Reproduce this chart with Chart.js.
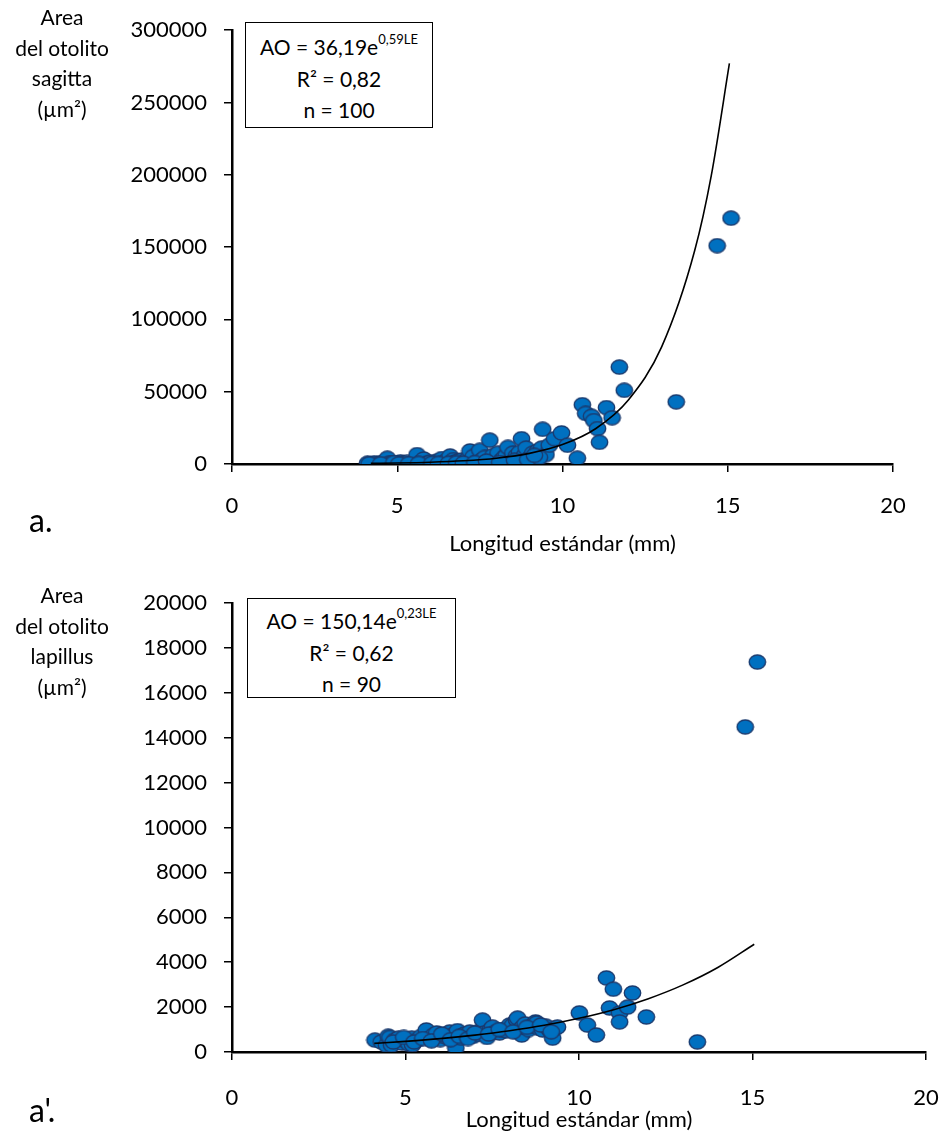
<!DOCTYPE html>
<html>
<head>
<meta charset="utf-8">
<script src="https://cdn.jsdelivr.net/npm/chart.js@4/dist/chart.umd.min.js"></script>
<style>
  html, body { margin:0; padding:0; background:#fff; }
  body { width:950px; height:1135px; position:relative; overflow:hidden; font-family: Lato, "Liberation Sans", sans-serif; color:#000; }
  .cv { position:absolute; left:0; }
  .ytitle { position:absolute; text-align:center; font-size:21px; line-height:30.5px; width:130px; }
  .eq { position:absolute; border:1.5px solid #000; background:#fff; text-align:center; font-size:21px; line-height:31.5px; box-sizing:border-box; padding-top:8px; }
  .eq sup { font-size:13px; position:relative; top:2px; vertical-align:top; line-height:13px; }
  .tag { position:absolute; font-size:32px; }
</style>
</head>
<body>
<canvas id="c1" class="cv" style="top:0" width="950" height="570"></canvas>
<canvas id="c2" class="cv" style="top:570px" width="950" height="565"></canvas>

<div class="ytitle" style="left:-3px; top:2px;">Area<br>del otolito<br>sagitta<br>(µm²)</div>
<div class="ytitle" style="left:-3px; top:580px;">Area<br>del otolito<br>lapillus<br>(µm²)</div>

<div class="eq" style="left:245px; top:22px; width:188px; height:106px;">AO = 36,19e<sup>0,59LE</sup><br>R² = 0,82<br>n = 100</div>
<div class="eq" style="left:247px; top:598px; width:209px; height:100px; padding-top:6px;">AO = 150,14e<sup>0,23LE</sup><br>R² = 0,62<br>n = 90</div>

<div class="tag" style="left:29px; top:500px;">a.</div>
<div class="tag" style="left:29px; top:1090px;">a'.</div>

<script>
// ---------- DATA: sagitta (top) ----------
const sagittaLength = [4.1,4.2,4.3,4.45,4.55,4.6,4.7,4.75,4.85,4.95,5.0,5.1,5.2,5.3,5.45,5.55,5.6,5.7,5.8,5.9,
  6.0,6.1,6.2,6.3,6.35,6.45,6.5,6.6,6.65,6.7,6.75,6.85,6.95,7.05,7.15,7.2,7.25,7.3,7.4,7.5,
  7.55,7.65,7.8,7.9,8.0,8.05,8.15,8.25,8.3,8.35,8.45,8.5,8.6,8.7,8.76,8.85,8.9,9.0,9.1,9.2,
  9.25,9.37,9.4,9.5,9.6,9.76,9.97,10.15,10.45,10.6,10.7,10.88,10.95,11.06,11.12,11.33,11.5,11.72,11.87,13.44,
  14.68,15.1,4.15,4.5,4.9,5.05,5.35,5.65,6.05,6.25,6.55,6.8,7.0,7.35,7.7,8.1,8.55,8.95,9.3,9.15];
const sagittaArea = [500,300,800,400,600,1200,4000,500,900,300,700,1500,500,1100,800,2500,6500,1000,3500,600,
  1500,900,2000,700,3800,1300,2600,5500,800,3000,1400,2200,2700,1600,4000,9000,2700,5200,1500,9500,
  2700,4500,16500,6000,3500,7500,2700,5000,6000,11500,3000,7500,5500,8000,17500,6000,11000,4000,7500,2700,
  9000,11000,24000,6500,13000,17500,21500,13000,4000,41000,35000,33000,30000,24500,15000,39000,32000,67000,51000,43000,
  151000,170000,200,200,1000,200,300,400,500,400,500,900,600,1000,2000,1000,2500,3000,4500,6000];
const sagittaTrendLength = [4.2,5,6,7,8,9,10,11,12,13,14,14.5,15.05];
const sagittaTrendArea   = [410,670,1220,2220,4030,7350,13400,24400,44500,81000,147600,199300,277000];
const sagittaYTicks = [0,50000,100000,150000,200000,250000,300000];

// ---------- DATA: lapillus (bottom) ----------
const lapillusLength = [4.12,4.3,4.45,4.5,4.55,4.6,4.7,4.8,4.9,5.0,5.1,5.18,5.2,5.35,5.45,5.6,5.7,5.8,5.9,6.0,
  6.1,6.2,6.27,6.35,6.45,6.5,6.6,6.7,6.85,6.95,7.05,7.15,7.22,7.28,7.35,7.45,7.51,7.6,7.71,7.8,
  7.9,8.0,8.09,8.2,8.23,8.3,8.35,8.37,8.45,8.55,8.65,8.75,8.78,8.85,8.95,9.05,9.15,9.24,9.3,9.38,
  10.01,10.24,10.5,10.79,10.99,10.88,11.17,11.17,11.4,11.54,11.94,13.41,14.79,15.14,
  4.65,4.95,5.25,5.5,5.75,6.05,6.3,6.55,6.8,7.0,7.4,7.7,8.1,8.5,8.9,9.2];
const lapillusArea = [530,450,300,700,650,300,550,620,400,500,350,620,320,550,700,980,600,750,850,550,
  700,650,890,750,180,950,620,800,890,700,780,950,1420,850,650,1000,1110,900,850,1000,
  950,1200,1200,1420,1510,1000,760,1110,1250,1000,1150,1340,1300,1050,980,1150,980,620,1050,1110,
  1740,1200,760,3300,2800,1960,1740,1340,2000,2630,1560,450,14480,17370,
  450,650,450,600,500,800,550,700,600,850,800,1000,900,1100,1200,900];
const lapillusTrendLength = [4.1,5,6,7,8,9,10,11,12,13,14,15.05];
const lapillusTrendArea   = [385,475,595,750,945,1190,1500,1885,2375,2990,3765,4800];
const lapillusYTicks = [0,2000,4000,6000,8000,10000,12000,14000,16000,18000,20000];

const xTicks = [0,5,10,15,20];

// ---------- helpers ----------
function makeDot(){
  const c = document.createElement('canvas'); c.width = 19; c.height = 16;
  const g = c.getContext('2d');
  g.beginPath(); g.ellipse(9.5, 8, 8.2, 7.0, 0, 0, 2*Math.PI);
  g.fillStyle = '#0070C0'; g.fill();
  g.lineWidth = 1.4; g.strokeStyle = '#1A3A6E'; g.stroke();
  return c;
}
const dot = makeDot();
const FONT = 'Lato, "Liberation Sans", sans-serif';
const pts = (xs, ys) => xs.map((x, i) => ({x, y: ys[i]}));

function build(id, cfg){
  new Chart(document.getElementById(id), {
    type: 'scatter',
    data: {
      datasets: [
        { type:'line', data: pts(cfg.tx, cfg.ty), borderColor:'#000', borderWidth:1.6,
          pointRadius:0, fill:false, cubicInterpolationMode:'monotone', order:0 },
        { data: pts(cfg.x, cfg.y), pointStyle: dot, pointRadius:8, order:1 }
      ]
    },
    options: {
      responsive:false, animation:false, events:[],
      layout: { padding: { left:0, top:cfg.padTop, right:cfg.padRight, bottom:0 } },
      plugins: { legend:{display:false}, tooltip:{enabled:false} },
      scales: {
        x: {
          type:'linear', min:0, max:20,
          afterBuildTicks: s => { s.ticks = xTicks.map(v => ({value:v})); },
          afterFit: s => { s.height = cfg.xHeight; s.paddingLeft = 0; s.paddingRight = 0; },
          grid: { drawOnChartArea:false, drawTicks:true, tickLength:8, color:'#000', lineWidth:1.5 },
          border: { color:'#000', width:2.5 },
          ticks: { color:'#000', font:{family:FONT, size:22}, padding:cfg.xPad, maxRotation:0, callback: v => String(v) },
          title: { display:true, text:'Longitud estándar (mm)', color:'#000',
                   font:{family:FONT, size:22}, padding:{top:0, bottom:cfg.titlePad} }
        },
        y: {
          type:'linear', min:0, max:cfg.ymax,
          afterBuildTicks: s => { s.ticks = cfg.yticks.map(v => ({value:v})); },
          afterFit: s => { s.width = 232; },
          grid: { drawOnChartArea:false, drawTicks:true, tickLength:8, color:'#000', lineWidth:1.5 },
          border: { color:'#000', width:2.5 },
          ticks: { color:'#000', font:{family:FONT, size:22}, padding:17, callback: v => String(v) }
        }
      }
    }
  });
}

build('c1', { x:sagittaLength, y:sagittaArea, tx:sagittaTrendLength, ty:sagittaTrendArea,
  ymax:300000, yticks:sagittaYTicks, padTop:24, padRight:57, xHeight:106, xPad:21, titlePad:13 });
build('c2', { x:lapillusLength, y:lapillusArea, tx:lapillusTrendLength, ty:lapillusTrendArea,
  ymax:20000, yticks:lapillusYTicks, padTop:33, padRight:24, xHeight:83, xPad:25, titlePad:2 });
</script>
</body>
</html>
